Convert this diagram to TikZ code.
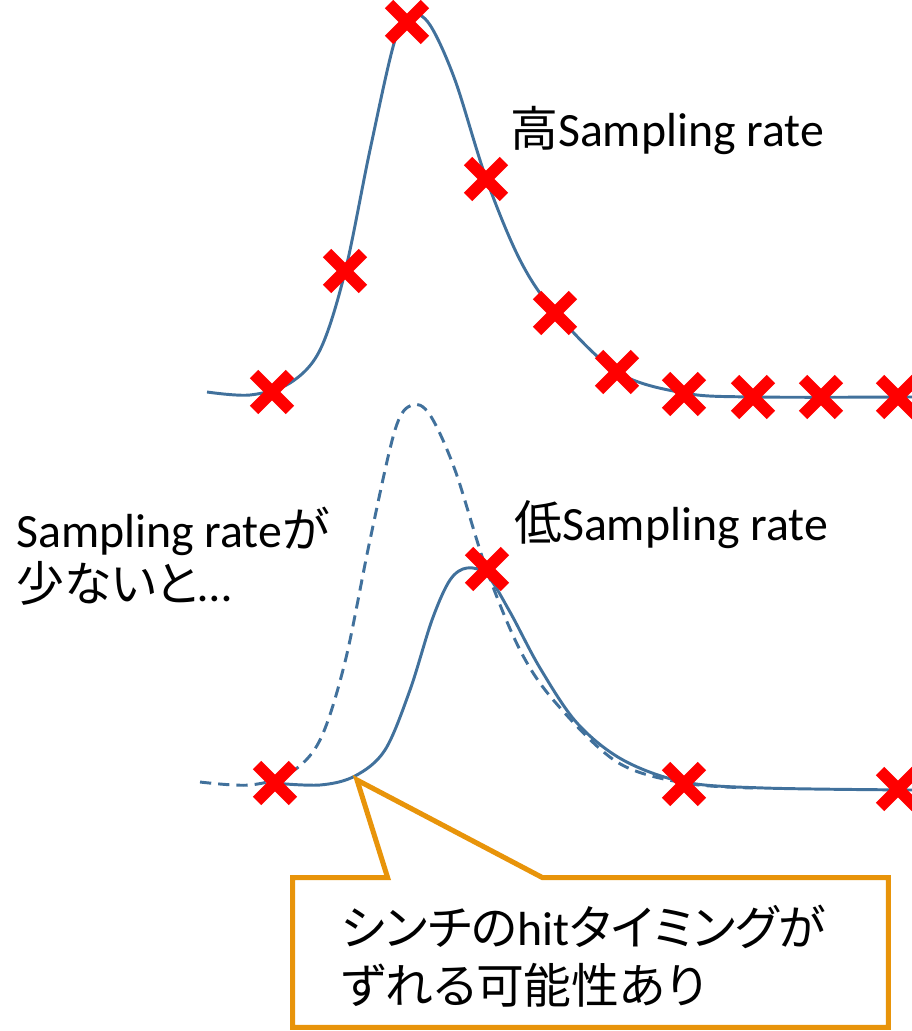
\documentclass[tikz,border=0pt]{standalone}
\usepackage{fontspec}
\setmainfont{Carlito}
\newfontfamily\jp[RawFeature=+palt]{Noto Sans CJK JP}
\usetikzlibrary{shapes.misc, calc}
\definecolor{waveblue}{RGB}{65,113,156}
\definecolor{hitred}{RGB}{255,0,0}
\definecolor{noteorange}{RGB}{232,148,10}

\begin{document}
\begin{tikzpicture}[
    x=0.025cm, y=-0.025cm,
    wave/.style={draw=waveblue, line width=2.1pt},
    xmark/.style={cross out, draw=hitred, line width=8.5pt, minimum size=0.6cm, inner sep=0pt},
    lbl/.style={inner sep=0pt, anchor=base west, align=left, font=\fontsize{34pt}{38pt}\selectfont},
    callout/.style={draw=noteorange, line width=3.6pt, line join=miter},
]
\useasboundingbox (0,0) rectangle (912,1031);

\draw[wave] plot[smooth, tension=0.55] coordinates {(207,392) (250,395) (290,383) (320,350) (345,272) (370,150) (395,40) (412,15) (430,25) (455,80) (486,178) (520,260) (555,312) (617,372) (684,393) (753,397) (912,397)};
\draw[wave, dash pattern=on 8pt off 5pt] plot[smooth, tension=0.55] coordinates {(200,782) (250,785) (290,773) (320,740) (345,662) (370,540) (395,430) (412,405) (430,415) (455,470) (486,568) (520,650) (555,702) (617,762) (684,783) (753,788)};
\draw[wave] plot[smooth, tension=0.55] coordinates {(273,783) (320,785) (355,776) (385,750) (410,690) (432,620) (450,580) (467,568) (487,575) (510,612) (540,668) (577,723) (623,760) (684,782) (764,788) (912,790)};

\node[xmark] (h1) at (272,392) {};
\node[xmark] (h2) at (345,271) {};
\node[xmark] (h3) at (407,22) {};
\node[xmark] (h4) at (486,179) {};
\node[xmark] (h5) at (555,313) {};
\node[xmark] (h6) at (617,372) {};
\node[xmark] (h7) at (684,394) {};
\node[xmark] (h8) at (753,397) {};
\node[xmark] (h9) at (821,397) {};
\node[xmark] (h10) at (898,397) {};

\node[xmark] (l1) at (275,783) {};
\node[xmark] (l2) at (487,569) {};
\node[xmark] (l3) at (684,784) {};
\node[xmark] (l4) at (898,789) {};

\node[lbl] (high) at (510,147) {{\jp 高}Sampling rate};
\node[lbl] (low) at (514,540) {{\jp 低}Sampling rate};
\node[lbl] (few) at (16,601) {Sampling rate{\jp が}\\{\jp 少ないと}…};

\node[minimum width=14.875cm, minimum height=3.725cm, inner sep=0pt] (note) at (590.5,952.5) {};
\coordinate (tip) at (357,780);
\draw[callout] (note.north west) -- ($(note.north west)+(95,0)$) -- (tip) -- ($(note.north west)+(250,0)$) -- (note.north east) -- (note.south east) -- (note.south west) -- cycle;
\node[lbl, font=\fontsize{34pt}{41pt}\selectfont] (notetext) at (341,1003) {{\jp シンチの}hit{\jp タイミングが}\\{\jp ずれる可能性あり}};
\end{tikzpicture}
\end{document}
